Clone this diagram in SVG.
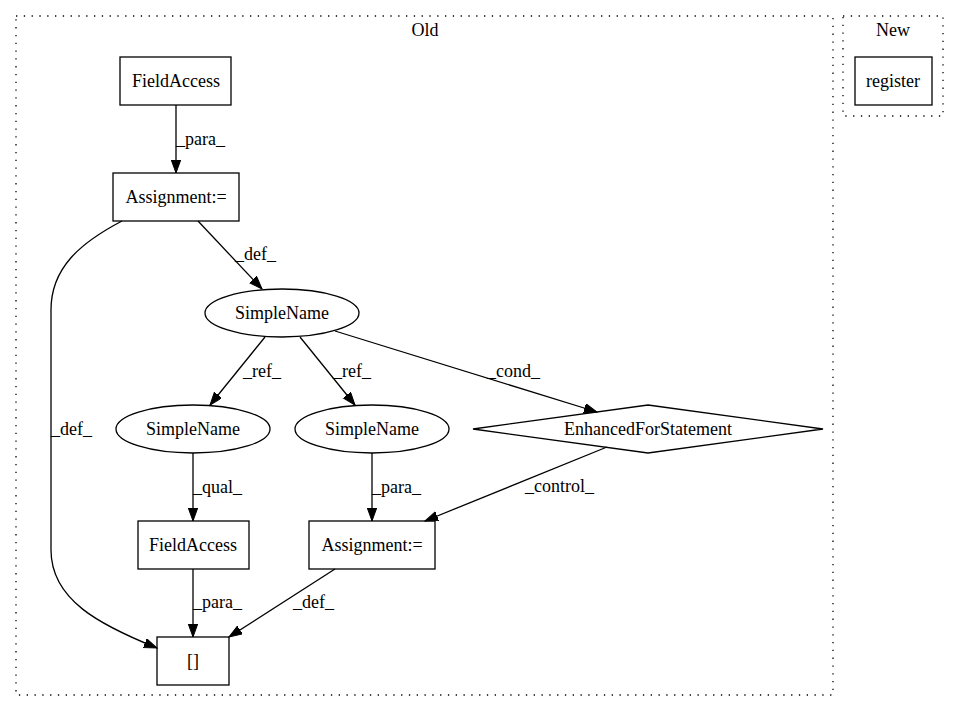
<svg xmlns="http://www.w3.org/2000/svg" width="959" height="712" viewBox="0 0 959 712">
<style>
text{font-family:"Liberation Serif","Times New Roman",serif;font-size:18px;fill:#000}
.n{fill:none;stroke:#000;stroke-width:1.3}
.c{fill:none;stroke:#000;stroke-width:1.3;stroke-dasharray:1.3,6.5}
.e{fill:none;stroke:#000;stroke-width:1.3;marker-end:url(#ah)}
.m{text-anchor:middle}
</style>
<defs>
<marker id="ah" markerUnits="userSpaceOnUse" markerWidth="16" markerHeight="12" refX="13" refY="4.7" orient="auto">
<path d="M0,0 L13,4.7 L0,9.4 Z" fill="#000" stroke="#000" stroke-width="1"/>
</marker>
</defs>
<rect width="959" height="712" fill="#fff"/>
<g id="cluster_old">
<rect class="c" x="16" y="16" width="817" height="679"/>
<text class="m" x="425" y="36">Old</text>
</g>
<g id="cluster_new">
<rect class="c" x="843" y="16" width="100" height="100"/>
<text class="m" x="893" y="36">New</text>
</g>
<g id="edges">
<path class="e" d="M176,105 L176,173"/>
<text x="176" y="145">_para_</text>
<path class="e" d="M198,221 L262,289"/>
<text x="235" y="260">_def_</text>
<path class="e" d="M122,221 C80,243 51,268 51,310 L51,550 C51,600 100,625 157,648"/>
<text x="51" y="435">_def_</text>
<path class="e" d="M265,337 L210,405"/>
<text x="243" y="377">_ref_</text>
<path class="e" d="M300,337 L355,405"/>
<text x="333" y="377">_ref_</text>
<path class="e" d="M335,331 L597,412"/>
<text x="487" y="377">_cond_</text>
<path class="e" d="M607,447 L425,521"/>
<text x="525" y="492">_control_</text>
<path class="e" d="M193,453 L193,521"/>
<text x="193" y="493">_qual_</text>
<path class="e" d="M372,453 L372,521"/>
<text x="372" y="493">_para_</text>
<path class="e" d="M193,569 L193,637"/>
<text x="193" y="608">_para_</text>
<path class="e" d="M335,569 L229,637"/>
<text x="293" y="608">_def_</text>
</g>
<g id="fieldaccess1">
<rect class="n" x="120" y="57" width="111" height="48"/>
<text class="m" x="176" y="87">FieldAccess</text>
</g>
<g id="assignment1">
<rect class="n" x="113" y="173" width="126" height="48"/>
<text class="m" x="176" y="203">Assignment:=</text>
</g>
<g id="simplename1">
<ellipse class="n" cx="282" cy="313" rx="77" ry="24"/>
<text class="m" x="282" y="319">SimpleName</text>
</g>
<g id="simplename2">
<ellipse class="n" cx="193" cy="429" rx="77" ry="24"/>
<text class="m" x="193" y="435">SimpleName</text>
</g>
<g id="simplename3">
<ellipse class="n" cx="372" cy="429" rx="77" ry="24"/>
<text class="m" x="372" y="435">SimpleName</text>
</g>
<g id="enhancedfor">
<polygon class="n" points="648,405 823,429 648,453 473,429"/>
<text class="m" x="648" y="435">EnhancedForStatement</text>
</g>
<g id="fieldaccess2">
<rect class="n" x="138" y="521" width="111" height="48"/>
<text class="m" x="193" y="551">FieldAccess</text>
</g>
<g id="assignment2">
<rect class="n" x="309" y="521" width="126" height="48"/>
<text class="m" x="372" y="551">Assignment:=</text>
</g>
<g id="arrayaccess">
<rect class="n" x="157" y="637" width="72" height="48"/>
<text class="m" x="193" y="667">[]</text>
</g>
<g id="register">
<rect class="n" x="855" y="57" width="77" height="48"/>
<text class="m" x="893" y="87">register</text>
</g>
</svg>
